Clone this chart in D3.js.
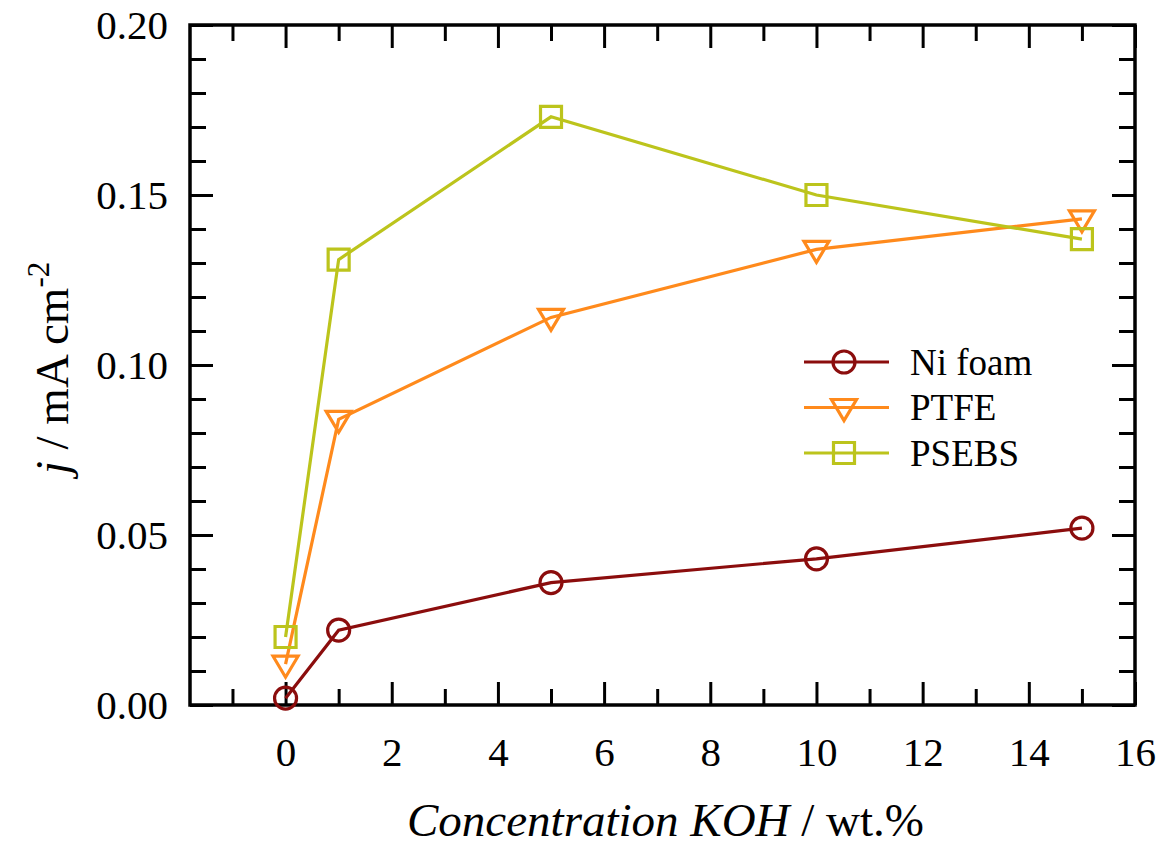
<!DOCTYPE html>
<html>
<head>
<meta charset="utf-8">
<script src="https://cdn.jsdelivr.net/npm/d3@7"></script>
<style>
  html, body { margin: 0; padding: 0; background: #fff; }
  svg { display: block; }
  svg text { font-family: "Liberation Serif", Tinos, "Times New Roman", Times, "DejaVu Serif", serif !important; fill: #000; }
</style>
</head>
<body>
<svg id="chart" width="1161" height="847"></svg>
<script>
// KOH concentration (wt.%) shared by all series
const concentration = [0, 1, 5, 10, 15];

// Current density j (mA cm^-2) for each electrode
const niFoam = [0.002, 0.022, 0.036, 0.043, 0.052];
const ptfe   = [0.012, 0.084, 0.114, 0.134, 0.143];
const psebs  = [0.020, 0.131, 0.173, 0.150, 0.137];

const seriesNames = ["Ni foam", "PTFE", "PSEBS"];
const seriesColors = ["#8b0d0d", "#ff8a1c", "#bcc41c"];
const seriesSymbols = ["circle", "triangleDown", "square"];

const xTickValues = [0, 2, 4, 6, 8, 10, 12, 14, 16];
const yTickValues = [0.00, 0.05, 0.10, 0.15, 0.20];

const serifStack = '"Liberation Serif", Tinos, "Times New Roman", Times, "DejaVu Serif", serif';

const svg = d3.select("#chart");
const plot = { left: 190, right: 1135, top: 25, bottom: 705 };

const x = d3.scaleLinear().domain([-1.8, 16]).range([plot.left, plot.right]);
const y = d3.scaleLinear().domain([0, 0.2]).range([plot.bottom, plot.top]);

const series = [niFoam, ptfe, psebs].map((vals, i) => ({
  name: seriesNames[i],
  color: seriesColors[i],
  symbol: seriesSymbols[i],
  points: concentration.map((c, k) => ({ x: c, y: vals[k] }))
}));

// Ticks point inward on all four sides
const majorLen = 23, minorLen = 16;
const xMinor = d3.range(-1, 16, 1).filter(v => !xTickValues.includes(v));
const yMinor = d3.range(0.01, 0.2, 0.01).filter(v => !yTickValues.some(t => Math.abs(t - v) < 1e-9));

function addAxis(axis, transform, tickLen, showLabels) {
  const g = svg.append("g").attr("transform", transform).call(axis.tickSizeInner(tickLen).tickSizeOuter(0));
  g.attr("font-family", serifStack);
  g.select(".domain").remove();
  g.selectAll(".tick line").attr("stroke", "#000").attr("stroke-width", 3);
  if (!showLabels) g.selectAll(".tick text").remove();
  return g;
}

// Bottom (labels placed below the frame)
const gb = addAxis(d3.axisTop(x).tickValues(xTickValues).tickFormat(d3.format("d")),
  `translate(0,${plot.bottom})`, majorLen, true);
gb.selectAll(".tick text").attr("y", 32).attr("dy", "0.71em").attr("font-size", 41).attr("text-anchor", "middle");
addAxis(d3.axisTop(x).tickValues(xMinor), `translate(0,${plot.bottom})`, minorLen, false);

// Top
addAxis(d3.axisBottom(x).tickValues(xTickValues), `translate(0,${plot.top})`, majorLen, false);
addAxis(d3.axisBottom(x).tickValues(xMinor), `translate(0,${plot.top})`, minorLen, false);

// Left
const gl = addAxis(d3.axisRight(y).tickValues(yTickValues).tickFormat(d3.format(".2f")),
  `translate(${plot.left},0)`, majorLen, true);
gl.selectAll(".tick text").attr("x", -22).attr("text-anchor", "end").attr("font-size", 41).attr("dy", "0.34em");
addAxis(d3.axisRight(y).tickValues(yMinor), `translate(${plot.left},0)`, minorLen, false);

// Right
addAxis(d3.axisLeft(y).tickValues(yTickValues), `translate(${plot.right},0)`, majorLen, false);
addAxis(d3.axisLeft(y).tickValues(yMinor), `translate(${plot.right},0)`, minorLen, false);

// Frame
svg.append("rect")
  .attr("x", plot.left).attr("y", plot.top)
  .attr("width", plot.right - plot.left).attr("height", plot.bottom - plot.top)
  .attr("fill", "none").attr("stroke", "#000").attr("stroke-width", 3.5);

// Marker shapes (centered at 0,0)
const markerPath = {
  circle: d3.symbol().type(d3.symbolCircle).size(Math.PI * 11 * 11)(),
  square: "M-10.5,-10.5H10.5V10.5H-10.5Z",
  triangleDown: "M-12.5,-8H12.5L0,13Z"
};

const line = d3.line().x(d => x(d.x)).y(d => y(d.y));

const gSeries = svg.append("g");
series.forEach(s => {
  gSeries.append("path")
    .attr("d", line(s.points))
    .attr("fill", "none").attr("stroke", s.color).attr("stroke-width", 3.2);
});
series.forEach(s => {
  gSeries.append("g").selectAll("path")
    .data(s.points).join("path")
    .attr("transform", d => `translate(${x(d.x)},${y(d.y)})`)
    .attr("d", markerPath[s.symbol])
    .attr("fill", "none").attr("stroke", s.color).attr("stroke-width", 3.2);
});

// Legend
const legend = svg.append("g").attr("transform", "translate(804,362)").attr("font-family", serifStack);
series.forEach((s, i) => {
  const row = legend.append("g").attr("transform", `translate(0,${i * 45.5})`);
  row.append("line").attr("x1", 0).attr("x2", 85).attr("y1", 0).attr("y2", 0)
    .attr("stroke", s.color).attr("stroke-width", 3.2);
  row.append("path").attr("transform", "translate(40,0)").attr("d", markerPath[s.symbol])
    .attr("fill", "none").attr("stroke", s.color).attr("stroke-width", 3.2);
  row.append("text").attr("x", 106).attr("y", 0).attr("dy", "0.35em")
    .attr("font-size", 37).text(s.name);
});

// Axis titles
const xTitle = svg.append("text")
  .attr("font-family", serifStack)
  .attr("x", (plot.left + plot.right) / 2 + 3).attr("y", 836)
  .attr("text-anchor", "middle").attr("font-size", 47);
xTitle.append("tspan").attr("font-style", "italic").text("Concentration KOH");
xTitle.append("tspan").text(" / wt.%");

const yTitle = svg.append("text")
  .attr("font-family", serifStack)
  .attr("transform", "translate(68,368) rotate(-90)")
  .attr("text-anchor", "middle").attr("font-size", 47);
yTitle.append("tspan").attr("font-style", "italic").text("j");
yTitle.append("tspan").text(" / mA cm");
yTitle.append("tspan").attr("font-size", 31).attr("dy", -19).text("-2");
</script>
</body>
</html>
